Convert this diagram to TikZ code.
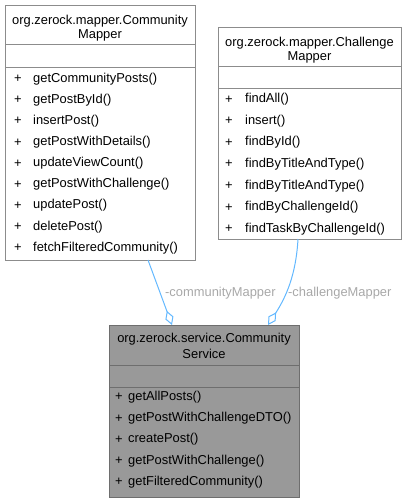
\documentclass[tikz,border=0pt]{standalone}
\usepackage{fontspec}
\setmainfont{Liberation Sans}
\usetikzlibrary{arrows.meta}
\definecolor{edgeblue}{HTML}{63B8FF}
\definecolor{lblgrey}{HTML}{A8A8A8}
\definecolor{boxborder}{HTML}{8C8C8C}
\definecolor{mainfill}{HTML}{999999}
\definecolor{mainborder}{HTML}{6E6E6E}
\begin{document}
\begin{tikzpicture}[x=1pt,y=-1pt,
  font=\fontsize{12.9}{15}\selectfont,
  classbox/.style={draw=boxborder, fill=white, line width=1pt, rectangle, inner sep=0pt, anchor=north west},
  mainbox/.style={draw=mainborder, fill=mainfill, line width=1pt, rectangle, inner sep=0pt, anchor=north west},
  txt/.style={inner sep=0pt, anchor=west},
  ttl/.style={inner sep=0pt, anchor=center},
  edgeline/.style={draw=edgeblue, line width=1pt, -{Diamond[open, length=15pt, width=8.5pt, line width=1pt]}},
  lbl/.style={inner sep=0pt, anchor=west, text=lblgrey}
]
\useasboundingbox (0,0) rectangle (405,501);

% Community mapper
\node[classbox, minimum width=190pt, minimum height=255pt] (cm) at (5,5) {};
\draw[boxborder, line width=1pt] (5,44) -- (195,44) (5,67) -- (195,67);
\node[ttl] (cmt1) at (100,21) {org.zerock.mapper.Community};
\node[ttl] (cmt2) at (100,35) {Mapper};
\foreach \m [count=\i from 0] in {getCommunityPosts(),getPostById(),insertPost(),getPostWithDetails(),updateViewCount(),getPostWithChallenge(),updatePost(),deletePost(),fetchFilteredCommunity()}{
  \node[txt] (cmp\i) at (14,79+21.1*\i) {+};
  \node[txt] (cmm\i) at (33,79+21.1*\i) {\m};
}

% Challenge mapper
\node[classbox, minimum width=183pt, minimum height=212pt] (ch) at (218,27) {};
\draw[boxborder, line width=1pt] (218,66) -- (401,66) (218,88) -- (401,88);
\node[ttl] (cht1) at (309.5,43) {org.zerock.mapper.Challenge};
\node[ttl] (cht2) at (309.5,57) {Mapper};
\foreach \m [count=\i from 0] in {findAll(),insert(),findById(),findByTitleAndType(),findByTitleAndType(),findByChallengeId(),findTaskByChallengeId()}{
  \node[txt] (chp\i) at (225,99.3+21.6*\i) {+};
  \node[txt] (chm\i) at (245,99.3+21.6*\i) {\m};
}

% Community service
\node[mainbox, minimum width=190pt, minimum height=172pt] (sv) at (109,325) {};
\draw[mainborder, line width=1pt] (109,365) -- (299,365) (109,387) -- (299,387);
\node[ttl] (svt1) at (204,339) {org.zerock.service.Community};
\node[ttl] (svt2) at (204,354) {Service};
\foreach \m [count=\i from 0] in {getAllPosts(),getPostWithChallengeDTO(),createPost(),getPostWithChallenge(),getFilteredCommunity()}{
  \node[txt] (svp\i) at (115,397+21.3*\i) {+};
  \node[txt] (svm\i) at (128,397+21.3*\i) {\m};
}

% connectors
\coordinate (c1s) at (148,260);
\coordinate (c1e) at (172,325);
\coordinate (c2s) at (298,239);
\coordinate (c2e) at (268,325);
\draw[edgeline] (c1s) -- (c1e);
\draw[edgeline] (c2s) .. controls (296,275) and (286,297) .. (c2e);
\node[lbl] (l1) at (165,293) {-communityMapper};
\node[lbl] (l2) at (288,293) {-challengeMapper};
\end{tikzpicture}
\end{document}
